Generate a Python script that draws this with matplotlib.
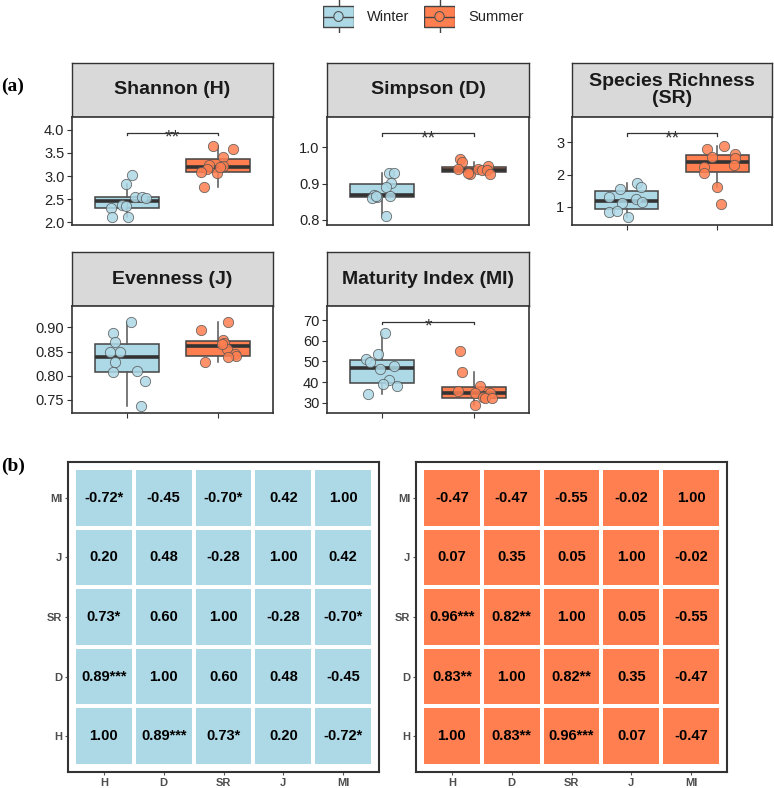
import numpy as np
import matplotlib
matplotlib.use("Agg")
import matplotlib.pyplot as plt
from matplotlib.colors import ListedColormap
from matplotlib.patches import Rectangle, Circle

plt.rcParams['font.family'] = ['Liberation Sans', 'DejaVu Sans']

W, H = 774, 788
winter_col = '#ADD8E6'
summer_col = '#FF7F50'
dark = '#333333'

# ---- diversity indices, 10 samples per season ----
shannon_w = [3.02, 2.82, 2.54, 2.54, 2.53, 2.38, 2.36, 2.30, 2.12, 2.12]
shannon_s = [3.66, 3.59, 3.41, 3.25, 3.21, 3.15, 3.08, 3.06, 2.77, 3.20]
simpson_w = [0.930, 0.930, 0.901, 0.890, 0.869, 0.862, 0.860, 0.865, 0.866, 0.812]
simpson_s = [0.967, 0.958, 0.939, 0.926, 0.929, 0.939, 0.936, 0.947, 0.936, 0.926]
richness_w = [1.73, 1.60, 1.54, 1.29, 1.23, 1.15, 1.10, 0.84, 0.88, 0.69]
richness_s = [2.89, 2.78, 2.55, 2.64, 2.50, 2.30, 2.24, 2.04, 1.62, 1.07]
evenness_w = [0.910, 0.889, 0.870, 0.850, 0.850, 0.829, 0.808, 0.810, 0.789, 0.738]
evenness_s = [0.910, 0.894, 0.874, 0.868, 0.855, 0.845, 0.840, 0.838, 0.829, 0.866]
maturity_w = [63.9, 53.6, 51.1, 49.5, 47.8, 46.1, 41.0, 38.9, 38.1, 34.2]
maturity_s = [55.2, 45.0, 38.1, 35.7, 34.9, 34.9, 32.9, 32.1, 32.1, 28.9]

# horizontal jitter of the points (category units)
jit_shannon_w = [0.055, -0.004, 0.088, 0.17, 0.21, -0.058, -0.011, -0.175, -0.157, 0.011]
jit_shannon_s = [-0.055, 0.16, 0.055, -0.099, 0.055, -0.12, -0.186, -0.011, -0.15, 0.018]
jit_simpson_w = [0.08, 0.135, 0.095, 0.04, -0.087, -0.058, -0.113, -0.065, 0.087, 0.044]
jit_simpson_s = [-0.153, -0.135, -0.171, -0.044, -0.062, 0.047, 0.084, 0.156, 0.138, 0.175]
jit_richness_w = [0.117, 0.164, -0.073, -0.193, 0.109, 0.172, -0.055, -0.193, -0.109, 0.015]
jit_richness_s = [0.073, -0.12, -0.058, 0.19, 0.19, 0.182, -0.15, -0.15, -0.004, 0.036]
jit_evenness_w = [0.051, -0.15, -0.131, -0.182, -0.073, -0.131, -0.146, 0.109, 0.2, 0.153]
jit_evenness_s = [0.106, -0.186, 0.051, 0.062, 0.099, 0.179, 0.19, 0.106, -0.139, 0.044]
jit_maturity_w = [0.033, -0.047, -0.178, -0.131, 0.135, -0.022, 0.08, 0.007, 0.16, -0.149]
jit_maturity_s = [-0.153, -0.135, 0.065, -0.171, 0.011, 0.175, 0.095, 0.12, 0.193, 0.011]

# ---- correlation matrices (rows/cols in order H, D, SR, J, MI) ----
indices = ["H", "D", "SR", "J", "MI"]
winter_r = [[1.00, 0.89, 0.73, 0.20, -0.72],
            [0.89, 1.00, 0.60, 0.48, -0.45],
            [0.73, 0.60, 1.00, -0.28, -0.70],
            [0.20, 0.48, -0.28, 1.00, 0.42],
            [-0.72, -0.45, -0.70, 0.42, 1.00]]
winter_sig = [["", "***", "*", "", "*"],
              ["***", "", "", "", ""],
              ["*", "", "", "", "*"],
              ["", "", "", "", ""],
              ["*", "", "*", "", ""]]
summer_r = [[1.00, 0.83, 0.96, 0.07, -0.47],
            [0.83, 1.00, 0.82, 0.35, -0.47],
            [0.96, 0.82, 1.00, 0.05, -0.55],
            [0.07, 0.35, 0.05, 1.00, -0.02],
            [-0.47, -0.47, -0.55, -0.02, 1.00]]
summer_sig = [["", "**", "***", "", ""],
              ["**", "", "**", "", ""],
              ["***", "**", "", "", ""],
              ["", "", "", "", ""],
              ["", "", "", "", ""]]


fig = plt.figure(figsize=(W / 100, H / 100), dpi=100)


def px_axes(x0, y0, x1, y1):
    return fig.add_axes([x0 / W, 1 - y1 / H, (x1 - x0) / W, (y1 - y0) / H])


def strip(x0, y0, x1, y1, title):
    ax = px_axes(x0, y0, x1, y1)
    ax.set_facecolor('#D9D9D9')
    ax.set_xticks([])
    ax.set_yticks([])
    for s in ax.spines.values():
        s.set_color(dark)
        s.set_linewidth(1.0)
    ax.text(0.5, 0.5, title, ha='center', va='center', fontsize=14,
            fontweight='bold', color='#1A1A1A', linespacing=1.0,
            transform=ax.transAxes)


def boxpanel(x0, y0, x1, y1, title, wdata, sdata, wjit, sjit, ylim, yticks,
             fmt, sig=None, xticks=False):
    strip(x0, y0 - 54, x1, y0, title)
    ax = px_axes(x0, y0, x1, y1)
    bp = ax.boxplot([wdata, sdata], positions=[1, 2], widths=0.7,
                    patch_artist=True, showfliers=False, whis=1.5,
                    showcaps=False, zorder=2,
                    medianprops=dict(color=dark, linewidth=2.6),
                    whiskerprops=dict(color='#555555', linewidth=1.1),
                    boxprops=dict(edgecolor='#444444', linewidth=1.1))
    for patch, c in zip(bp['boxes'], [winter_col, summer_col]):
        patch.set_facecolor(c)
    ax.scatter(1 + np.array(wjit), wdata, s=55, color=winter_col,
               edgecolors='#555555', linewidths=0.6, alpha=0.85, zorder=3)
    ax.scatter(2 + np.array(sjit), sdata, s=55, color=summer_col,
               edgecolors='#555555', linewidths=0.6, alpha=0.85, zorder=3)
    ax.set_xlim(0.4, 2.6)
    ax.set_ylim(*ylim)
    ax.set_yticks(yticks)
    ax.set_yticklabels([fmt.format(v) for v in yticks])
    ax.tick_params(axis='y', labelsize=10.5, colors='#333333', labelcolor='#222222',
                   length=3.5, width=0.8, pad=2)
    if xticks:
        ax.set_xticks([1, 2])
        ax.set_xticklabels(['', ''])
        ax.tick_params(axis='x', colors='#333333', length=3.5, width=0.8)
    else:
        ax.set_xticks([])
    for s in ax.spines.values():
        s.set_color(dark)
        s.set_linewidth(1.2)
    if sig is not None:
        ybar, label = sig
        tick = (ylim[1] - ylim[0]) * 0.02
        ax.plot([1, 1, 2, 2], [ybar - tick, ybar, ybar, ybar - tick],
                color=dark, lw=0.9, zorder=4)
        ax.annotate(label, (1.5, ybar), xytext=(0, -7), textcoords='offset points',
                    ha='center', va='baseline', fontsize=14, color=dark)
    return ax


boxpanel(72, 117, 273, 225, "Shannon (H)", shannon_w, shannon_s,
         jit_shannon_w, jit_shannon_s, (1.94, 4.28), [2.0, 2.5, 3.0, 3.5, 4.0],
         "{:.1f}", sig=(3.93, "**"))
boxpanel(327, 117, 529, 225, "Simpson (D)", simpson_w, simpson_s,
         jit_simpson_w, jit_simpson_s, (0.786, 1.083), [0.8, 0.9, 1.0],
         "{:.1f}", sig=(1.038, "**"))
boxpanel(572, 117, 772, 225, "Species Richness\n(SR)", richness_w, richness_s,
         jit_richness_w, jit_richness_s, (0.43, 3.79), [1, 2, 3],
         "{:d}", sig=(3.28, "**"), xticks=True)
boxpanel(72, 306, 273, 413, "Evenness (J)", evenness_w, evenness_s,
         jit_evenness_w, jit_evenness_s, (0.723, 0.944), [0.75, 0.80, 0.85, 0.90],
         "{:.2f}", xticks=True)
boxpanel(327, 306, 529, 413, "Maturity Index (MI)", maturity_w, maturity_s,
         jit_maturity_w, jit_maturity_s, (25.0, 76.8), [30, 40, 50, 60, 70],
         "{:d}", sig=(69.2, "*"), xticks=True)


# ---- legend ----
def legend_key(x0, color, label):
    ax = px_axes(x0, 0, x0 + 31, 33)
    ax.set_xlim(0, 1)
    ax.set_ylim(0, 1)
    ax.axis('off')
    ax.plot([0.5, 0.5], [0, 1], color='#444444', lw=1.0, zorder=1)
    ax.add_patch(Rectangle((0.0, 0.18), 1.0, 0.64, facecolor=color,
                           edgecolor='#444444', lw=1.0, zorder=2))
    ax.plot([0, 1], [0.5, 0.5], color='#444444', lw=1.0, zorder=3)
    ax.add_patch(Circle((0.5, 0.5), 0.15, facecolor=color, edgecolor='#555555',
                        lw=0.8, zorder=4))
    fig.text((x0 + 44) / W, 1 - 17 / H, label, ha='left', va='center',
             fontsize=10.5, color='#222222')


legend_key(323, winter_col, "Winter")
legend_key(424, summer_col, "Summer")

fig.text(1 / W, 1 - 86 / H, "(a)", fontsize=14, fontweight='bold',
         family='Liberation Serif', ha='left', va='center')
fig.text(1 / W, 1 - 466 / H, "(b)", fontsize=14, fontweight='bold',
         family='Liberation Serif', ha='left', va='center')


# ---- correlation heatmaps ----
def heatmap(x0, r, sig, color):
    ax = px_axes(x0, 462, x0 + 311, 772)
    vals = np.array(r)
    n = len(indices)
    xs = np.arange(n + 1) - 0.5
    ax.pcolormesh(xs, xs, vals, cmap=ListedColormap([color]),
                  edgecolors='white', linewidth=1.6)
    for i in range(n):
        for j in range(n):
            ax.text(j, i, "{:.2f}{}".format(vals[i, j], sig[i][j]),
                    ha='center', va='center', fontsize=10.5, fontweight='bold',
                    color='black')
    ax.set_xlim(-0.6, n - 0.4)
    ax.set_ylim(-0.6, n - 0.4)
    ax.set_xticks(range(n))
    ax.set_yticks(range(n))
    ax.set_xticklabels(indices)
    ax.set_yticklabels(indices)
    ax.tick_params(labelsize=8, colors='#555555', labelcolor='#4D4D4D',
                   length=2.5, width=0.8, pad=1.5)
    for lab in ax.get_xticklabels() + ax.get_yticklabels():
        lab.set_fontweight('bold')
    for s in ax.spines.values():
        s.set_color(dark)
        s.set_linewidth(1.5)


heatmap(68, winter_r, winter_sig, winter_col)
heatmap(416, summer_r, summer_sig, summer_col)

fig.savefig("out.png", dpi=100)
